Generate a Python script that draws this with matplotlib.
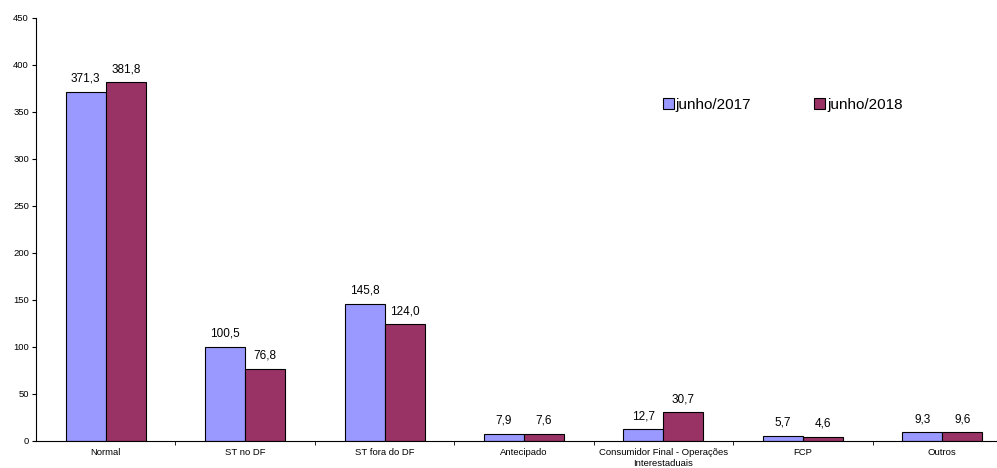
import matplotlib.pyplot as plt
import numpy as np

# Arrecadação por tipo de recolhimento — junho/2017 x junho/2018
categorias = ["Normal", "ST no DF", "ST fora do DF", "Antecipado",
              "Consumidor Final - Operações\nInterestaduais",
              "FCP", "Outros"]
jun_2017 = [371.3, 100.5, 145.8, 7.9, 12.7, 5.7, 9.3]
jun_2018 = [381.8, 76.8, 124.0, 7.6, 30.7, 4.6, 9.6]

COR_2017 = "#9999FF"
COR_2018 = "#993366"

plt.rcParams["font.family"] = ["Liberation Sans", "DejaVu Sans"]

fig = plt.figure(figsize=(9.97, 4.68), dpi=100)
ax = fig.add_axes([0.0361, 0.0577, 0.979, 0.904])

x = np.arange(len(categorias))
larg = 0.287
b1 = ax.bar(x - larg / 2, jun_2017, larg, color=COR_2017, edgecolor="black",
            linewidth=0.8, label="junho/2017")
b2 = ax.bar(x + larg / 2, jun_2018, larg, color=COR_2018, edgecolor="black",
            linewidth=0.8, label="junho/2018")

for barras, vals in ((b1, jun_2017), (b2, jun_2018)):
    for b, v in zip(barras, vals):
        ax.annotate(f"{v:.1f}".replace(".", ","),
                    (b.get_x() + b.get_width() / 2, v),
                    xytext=(0, 5), textcoords="offset points",
                    ha="center", va="bottom", fontsize=8.5)

ax.set_xlim(-0.5, len(categorias) - 0.5)
ax.set_ylim(0, 450)
ax.set_yticks(range(0, 451, 50))
ax.tick_params(axis="y", labelsize=6.8, length=3, direction="out", pad=2)

# rótulos centrados, marcas de divisão entre categorias
ax.set_xticks(x)
ax.set_xticklabels(categorias, fontsize=6.8, linespacing=1.35)
ax.tick_params(axis="x", which="major", length=0, pad=5)
ax.set_xticks(np.arange(0.5, len(categorias) - 0.5, 1), minor=True)
ax.tick_params(axis="x", which="minor", length=3, direction="out")

ax.spines["top"].set_visible(False)
ax.spines["right"].set_visible(False)
ax.spines["left"].set_linewidth(0.8)
ax.spines["bottom"].set_linewidth(0.8)

leg = ax.legend(loc="center left", bbox_to_anchor=(0.636, 0.794), ncol=2,
                frameon=False, fontsize=11, handlelength=0.7, handleheight=0.7,
                handletextpad=0.15, columnspacing=4.1, borderaxespad=0)

fig.savefig("out.png", dpi=100)
